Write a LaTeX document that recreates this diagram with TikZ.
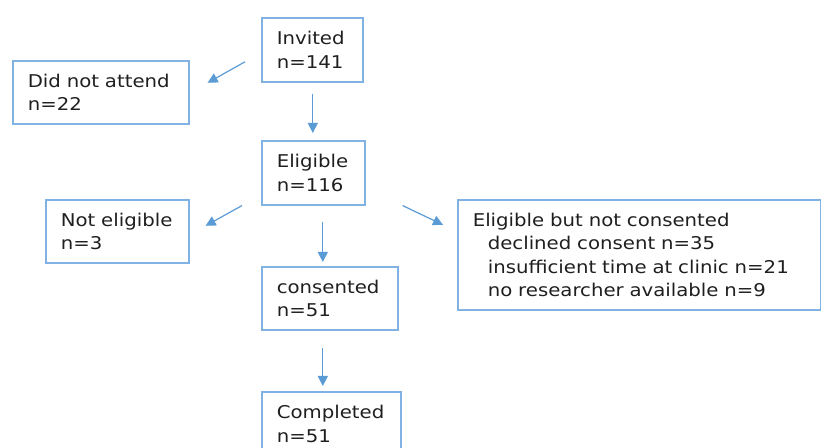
\documentclass[tikz,border=0pt]{standalone}
\usepackage{fontspec}
\setmainfont[FakeStretch=1.12]{DejaVu Sans}
\usepackage{xcolor}
\usetikzlibrary{calc,arrows.meta}
\definecolor{boxline}{HTML}{80B2E3}
\definecolor{arrowblue}{HTML}{5B9BD5}
\definecolor{textgray}{HTML}{1F1F1F}

\begin{document}
\begin{tikzpicture}[x=0.75pt, y=-0.75pt,
    flowbox/.style={draw=boxline, line width=1.2pt, anchor=north west, align=left,
      inner xsep=11.25pt, inner ysep=0pt, text=textgray,
      font=\fontsize{13.2}{17.6}\selectfont},
    flowarrow/.style={draw=arrowblue, line width=0.9pt,
      -{Triangle[length=7.5pt,width=7.5pt]}}]
  \useasboundingbox (0,0) rectangle (821,448);

  % Top row
  \node[flowbox, text width=53.25pt, minimum height=48pt] (invited) at (261,17) {Invited\\n=141};
  \node[flowbox, text width=109.5pt, minimum height=47.25pt] (dna) at (12,60) {Did not attend\\n=22};

  % Eligible row
  \node[flowbox, text width=54.75pt, minimum height=48pt] (eligible) at (261,140) {Eligible\\n=116};
  \node[flowbox, text width=84.75pt, minimum height=47.25pt] (noteli) at (45,199) {Not eligible\\n=3};
  \node[flowbox, text width=249.75pt, minimum height=82.5pt] (notcons) at (457,199)
    {Eligible but not consented\\
     \hspace*{11.25pt}declined consent n=35\\
     \hspace*{11.25pt}insufficient time at clinic n=21\\
     \hspace*{11.25pt}no researcher available n=9};

  % Consented and completed
  \node[flowbox, text width=79.5pt, minimum height=47.25pt] (consented) at (261,266) {consented\\n=51};
  \node[flowbox, text width=81.75pt, minimum height=48pt] (completed) at (261,391) {Completed\\n=51};

  % Arrows
  \draw[flowarrow] ([shift={(-16,12)}]invited.west) -- ([shift={(18,-9.5)}]dna.east);
  \draw[flowarrow] ([shift={(0.5,11)}]invited.south) -- ([shift={(-0.5,-7)}]eligible.north);
  \draw[flowarrow] ([shift={(-19,0)}]eligible.south west) -- ([shift={(16,-5.5)}]noteli.east);
  \draw[flowarrow] ([shift={(9.5,16)}]eligible.south) -- ([shift={(-7,-4)}]consented.north);
  \draw[flowarrow] ([shift={(37,0)}]eligible.south east) -- ([shift={(-14,-30)}]notcons.west);
  \draw[flowarrow] ([shift={(-7,17)}]consented.south) -- ([shift={(-8.5,-5)}]completed.north);
\end{tikzpicture}
\end{document}
